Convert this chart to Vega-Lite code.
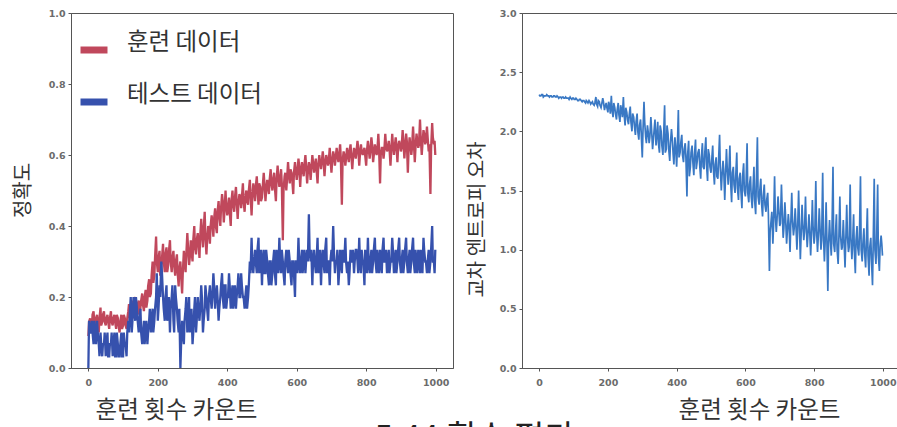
{
"$schema": "https://vega.github.io/schema/vega-lite/v6.json",
"padding": {"left": 12, "top": 7, "right": 0, "bottom": 0},
"bounds": "flush",
"spacing": 69,
"background": "white",
"title": {"text": "5.44 횟수 평가", "orient": "bottom", "anchor": "start", "frame": "bounds", "dx": 362, "offset": 1, "fontSize": 33, "font": "Noto Sans CJK KR", "fontWeight": "normal", "color": "#222", "baseline": "top"},
"datasets": {"d": [
{"x":0,"a_train":0.09,"b_test":0.0,"loss":2.31},
{"x":2,"a_train":0.13,"b_test":0.133,"loss":2.30},
{"x":5,"a_train":0.14,"b_test":0.1,"loss":2.30},
{"x":7,"a_train":0.12,"b_test":0.1,"loss":2.31},
{"x":10,"a_train":0.11,"b_test":0.133,"loss":2.31},
{"x":12,"a_train":0.15,"b_test":0.1,"loss":2.29},
{"x":15,"a_train":0.16,"b_test":0.067,"loss":2.30},
{"x":17,"a_train":0.13,"b_test":0.133,"loss":2.30},
{"x":20,"a_train":0.12,"b_test":0.1,"loss":2.30},
{"x":22,"a_train":0.14,"b_test":0.067,"loss":2.31},
{"x":25,"a_train":0.15,"b_test":0.133,"loss":2.30},
{"x":27,"a_train":0.12,"b_test":0.1,"loss":2.30},
{"x":30,"a_train":0.10,"b_test":0.067,"loss":2.29},
{"x":32,"a_train":0.14,"b_test":0.033,"loss":2.30},
{"x":35,"a_train":0.17,"b_test":0.1,"loss":2.30},
{"x":37,"a_train":0.12,"b_test":0.067,"loss":2.29},
{"x":40,"a_train":0.13,"b_test":0.033,"loss":2.29},
{"x":42,"a_train":0.15,"b_test":0.067,"loss":2.30},
{"x":45,"a_train":0.16,"b_test":0.067,"loss":2.30},
{"x":47,"a_train":0.13,"b_test":0.1,"loss":2.29},
{"x":50,"a_train":0.12,"b_test":0.033,"loss":2.29},
{"x":52,"a_train":0.14,"b_test":0.067,"loss":2.30},
{"x":55,"a_train":0.15,"b_test":0.1,"loss":2.29},
{"x":57,"a_train":0.13,"b_test":0.033,"loss":2.28},
{"x":60,"a_train":0.11,"b_test":0.033,"loss":2.29},
{"x":62,"a_train":0.14,"b_test":0.067,"loss":2.29},
{"x":65,"a_train":0.16,"b_test":0.067,"loss":2.28},
{"x":67,"a_train":0.13,"b_test":0.1,"loss":2.29},
{"x":70,"a_train":0.12,"b_test":0.033,"loss":2.29},
{"x":72,"a_train":0.14,"b_test":0.067,"loss":2.28},
{"x":75,"a_train":0.15,"b_test":0.1,"loss":2.28},
{"x":77,"a_train":0.13,"b_test":0.033,"loss":2.29},
{"x":80,"a_train":0.11,"b_test":0.033,"loss":2.28},
{"x":82,"a_train":0.15,"b_test":0.1,"loss":2.28},
{"x":85,"a_train":0.14,"b_test":0.067,"loss":2.28},
{"x":87,"a_train":0.12,"b_test":0.033,"loss":2.27},
{"x":90,"a_train":0.10,"b_test":0.033,"loss":2.29},
{"x":92,"a_train":0.13,"b_test":0.067,"loss":2.28},
{"x":95,"a_train":0.15,"b_test":0.1,"loss":2.27},
{"x":97,"a_train":0.11,"b_test":0.033,"loss":2.28},
{"x":100,"a_train":0.12,"b_test":0.033,"loss":2.28},
{"x":102,"a_train":0.15,"b_test":0.1,"loss":2.27},
{"x":105,"a_train":0.14,"b_test":0.067,"loss":2.27},
{"x":107,"a_train":0.12,"b_test":0.067,"loss":2.28},
{"x":110,"a_train":0.11,"b_test":0.033,"loss":2.27},
{"x":112,"a_train":0.14,"b_test":0.1,"loss":2.26},
{"x":115,"a_train":0.16,"b_test":0.133,"loss":2.26},
{"x":117,"a_train":0.18,"b_test":0.1,"loss":2.27},
{"x":120,"a_train":0.13,"b_test":0.167,"loss":2.27},
{"x":122,"a_train":0.15,"b_test":0.2,"loss":2.26},
{"x":125,"a_train":0.19,"b_test":0.1,"loss":2.25},
{"x":127,"a_train":0.16,"b_test":0.133,"loss":2.26},
{"x":130,"a_train":0.14,"b_test":0.2,"loss":2.26},
{"x":132,"a_train":0.18,"b_test":0.167,"loss":2.25},
{"x":135,"a_train":0.20,"b_test":0.133,"loss":2.24},
{"x":137,"a_train":0.17,"b_test":0.2,"loss":2.26},
{"x":140,"a_train":0.15,"b_test":0.167,"loss":2.25},
{"x":142,"a_train":0.18,"b_test":0.133,"loss":2.24},
{"x":145,"a_train":0.19,"b_test":0.1,"loss":2.26},
{"x":147,"a_train":0.15,"b_test":0.133,"loss":2.25},
{"x":150,"a_train":0.17,"b_test":0.167,"loss":2.23},
{"x":152,"a_train":0.19,"b_test":0.1,"loss":2.24},
{"x":155,"a_train":0.21,"b_test":0.067,"loss":2.25},
{"x":157,"a_train":0.18,"b_test":0.1,"loss":2.23},
{"x":160,"a_train":0.16,"b_test":0.133,"loss":2.22},
{"x":162,"a_train":0.20,"b_test":0.067,"loss":2.24},
{"x":165,"a_train":0.22,"b_test":0.1,"loss":2.29},
{"x":167,"a_train":0.17,"b_test":0.133,"loss":2.23},
{"x":170,"a_train":0.19,"b_test":0.067,"loss":2.21},
{"x":172,"a_train":0.23,"b_test":0.1,"loss":2.26},
{"x":175,"a_train":0.25,"b_test":0.133,"loss":2.25},
{"x":177,"a_train":0.20,"b_test":0.167,"loss":2.22},
{"x":180,"a_train":0.21,"b_test":0.1,"loss":2.20},
{"x":182,"a_train":0.26,"b_test":0.133,"loss":2.23},
{"x":185,"a_train":0.30,"b_test":0.167,"loss":2.28},
{"x":187,"a_train":0.24,"b_test":0.1,"loss":2.25},
{"x":190,"a_train":0.26,"b_test":0.133,"loss":2.18},
{"x":192,"a_train":0.31,"b_test":0.167,"loss":2.21},
{"x":195,"a_train":0.37,"b_test":0.2,"loss":2.24},
{"x":197,"a_train":0.30,"b_test":0.267,"loss":2.20},
{"x":200,"a_train":0.27,"b_test":0.133,"loss":2.16},
{"x":202,"a_train":0.31,"b_test":0.167,"loss":2.25},
{"x":205,"a_train":0.33,"b_test":0.233,"loss":2.22},
{"x":207,"a_train":0.26,"b_test":0.2,"loss":2.15},
{"x":210,"a_train":0.28,"b_test":0.3,"loss":2.30},
{"x":212,"a_train":0.31,"b_test":0.267,"loss":2.18},
{"x":215,"a_train":0.35,"b_test":0.2,"loss":2.12},
{"x":217,"a_train":0.30,"b_test":0.167,"loss":2.24},
{"x":220,"a_train":0.27,"b_test":0.133,"loss":2.20},
{"x":222,"a_train":0.32,"b_test":0.2,"loss":2.15},
{"x":225,"a_train":0.34,"b_test":0.233,"loss":2.10},
{"x":227,"a_train":0.27,"b_test":0.133,"loss":2.18},
{"x":230,"a_train":0.29,"b_test":0.167,"loss":2.24},
{"x":232,"a_train":0.33,"b_test":0.2,"loss":2.14},
{"x":235,"a_train":0.36,"b_test":0.1,"loss":2.08},
{"x":237,"a_train":0.30,"b_test":0.167,"loss":2.22},
{"x":240,"a_train":0.27,"b_test":0.2,"loss":2.18},
{"x":242,"a_train":0.31,"b_test":0.233,"loss":2.12},
{"x":245,"a_train":0.33,"b_test":0.133,"loss":2.29},
{"x":247,"a_train":0.29,"b_test":0.1,"loss":2.15},
{"x":250,"a_train":0.26,"b_test":0.233,"loss":2.05},
{"x":252,"a_train":0.30,"b_test":0.2,"loss":2.20},
{"x":255,"a_train":0.32,"b_test":0.167,"loss":2.16},
{"x":257,"a_train":0.27,"b_test":0.133,"loss":2.10},
{"x":260,"a_train":0.23,"b_test":0.1,"loss":2.06},
{"x":262,"a_train":0.28,"b_test":0.167,"loss":2.14},
{"x":265,"a_train":0.30,"b_test":0.0,"loss":2.21},
{"x":267,"a_train":0.26,"b_test":0.067,"loss":2.08},
{"x":270,"a_train":0.21,"b_test":0.133,"loss":2.00},
{"x":272,"a_train":0.27,"b_test":0.1,"loss":2.15},
{"x":275,"a_train":0.33,"b_test":0.067,"loss":2.12},
{"x":277,"a_train":0.30,"b_test":0.133,"loss":2.05},
{"x":280,"a_train":0.27,"b_test":0.167,"loss":1.97},
{"x":282,"a_train":0.32,"b_test":0.2,"loss":2.08},
{"x":285,"a_train":0.38,"b_test":0.1,"loss":2.15},
{"x":287,"a_train":0.34,"b_test":0.133,"loss":2.00},
{"x":290,"a_train":0.29,"b_test":0.2,"loss":1.93},
{"x":292,"a_train":0.31,"b_test":0.1,"loss":2.05},
{"x":295,"a_train":0.36,"b_test":0.133,"loss":2.10},
{"x":297,"a_train":0.33,"b_test":0.167,"loss":1.98},
{"x":300,"a_train":0.30,"b_test":0.067,"loss":1.78},
{"x":302,"a_train":0.36,"b_test":0.1,"loss":2.00},
{"x":305,"a_train":0.40,"b_test":0.167,"loss":2.25},
{"x":307,"a_train":0.34,"b_test":0.2,"loss":2.08},
{"x":310,"a_train":0.32,"b_test":0.1,"loss":1.95},
{"x":312,"a_train":0.36,"b_test":0.133,"loss":1.90},
{"x":315,"a_train":0.38,"b_test":0.2,"loss":2.05},
{"x":317,"a_train":0.35,"b_test":0.167,"loss":2.00},
{"x":320,"a_train":0.31,"b_test":0.133,"loss":1.90},
{"x":322,"a_train":0.37,"b_test":0.167,"loss":1.95},
{"x":325,"a_train":0.42,"b_test":0.233,"loss":2.12},
{"x":327,"a_train":0.38,"b_test":0.2,"loss":2.02},
{"x":330,"a_train":0.34,"b_test":0.1,"loss":1.85},
{"x":332,"a_train":0.39,"b_test":0.133,"loss":1.92},
{"x":335,"a_train":0.44,"b_test":0.167,"loss":2.03},
{"x":337,"a_train":0.37,"b_test":0.233,"loss":2.10},
{"x":340,"a_train":0.32,"b_test":0.2,"loss":1.88},
{"x":342,"a_train":0.36,"b_test":0.167,"loss":1.95},
{"x":345,"a_train":0.40,"b_test":0.133,"loss":2.08},
{"x":347,"a_train":0.39,"b_test":0.2,"loss":1.90},
{"x":350,"a_train":0.35,"b_test":0.233,"loss":1.82},
{"x":352,"a_train":0.40,"b_test":0.2,"loss":2.05},
{"x":355,"a_train":0.43,"b_test":0.167,"loss":2.00},
{"x":357,"a_train":0.41,"b_test":0.2,"loss":1.88},
{"x":360,"a_train":0.37,"b_test":0.267,"loss":1.80},
{"x":362,"a_train":0.42,"b_test":0.233,"loss":1.95},
{"x":365,"a_train":0.45,"b_test":0.167,"loss":2.22},
{"x":367,"a_train":0.40,"b_test":0.2,"loss":1.82},
{"x":370,"a_train":0.38,"b_test":0.233,"loss":1.85},
{"x":372,"a_train":0.44,"b_test":0.2,"loss":2.05},
{"x":375,"a_train":0.47,"b_test":0.133,"loss":1.98},
{"x":377,"a_train":0.43,"b_test":0.167,"loss":1.85},
{"x":380,"a_train":0.40,"b_test":0.2,"loss":1.75},
{"x":382,"a_train":0.45,"b_test":0.233,"loss":1.90},
{"x":385,"a_train":0.49,"b_test":0.267,"loss":2.02},
{"x":387,"a_train":0.47,"b_test":0.2,"loss":1.95},
{"x":390,"a_train":0.41,"b_test":0.167,"loss":1.80},
{"x":392,"a_train":0.44,"b_test":0.233,"loss":1.72},
{"x":395,"a_train":0.50,"b_test":0.233,"loss":1.95},
{"x":397,"a_train":0.46,"b_test":0.167,"loss":1.88},
{"x":400,"a_train":0.43,"b_test":0.2,"loss":1.70},
{"x":402,"a_train":0.45,"b_test":0.2,"loss":1.85},
{"x":405,"a_train":0.48,"b_test":0.267,"loss":2.18},
{"x":407,"a_train":0.44,"b_test":0.233,"loss":1.78},
{"x":410,"a_train":0.40,"b_test":0.167,"loss":1.82},
{"x":412,"a_train":0.47,"b_test":0.2,"loss":1.90},
{"x":415,"a_train":0.50,"b_test":0.233,"loss":1.97},
{"x":417,"a_train":0.46,"b_test":0.167,"loss":1.80},
{"x":420,"a_train":0.44,"b_test":0.2,"loss":1.74},
{"x":422,"a_train":0.48,"b_test":0.233,"loss":1.85},
{"x":425,"a_train":0.51,"b_test":0.167,"loss":1.90},
{"x":427,"a_train":0.47,"b_test":0.2,"loss":1.78},
{"x":430,"a_train":0.42,"b_test":0.233,"loss":1.45},
{"x":432,"a_train":0.46,"b_test":0.267,"loss":1.80},
{"x":435,"a_train":0.49,"b_test":0.2,"loss":1.92},
{"x":437,"a_train":0.48,"b_test":0.2,"loss":1.62},
{"x":440,"a_train":0.45,"b_test":0.267,"loss":1.70},
{"x":442,"a_train":0.48,"b_test":0.233,"loss":1.82},
{"x":445,"a_train":0.52,"b_test":0.2,"loss":1.88},
{"x":447,"a_train":0.47,"b_test":0.2,"loss":1.75},
{"x":450,"a_train":0.44,"b_test":0.167,"loss":1.63},
{"x":452,"a_train":0.48,"b_test":0.2,"loss":1.80},
{"x":455,"a_train":0.50,"b_test":0.233,"loss":1.93},
{"x":457,"a_train":0.47,"b_test":0.167,"loss":1.68},
{"x":460,"a_train":0.46,"b_test":0.2,"loss":1.75},
{"x":462,"a_train":0.50,"b_test":0.233,"loss":1.82},
{"x":465,"a_train":0.53,"b_test":0.3,"loss":1.85},
{"x":467,"a_train":0.49,"b_test":0.267,"loss":1.72},
{"x":470,"a_train":0.43,"b_test":0.367,"loss":1.60},
{"x":472,"a_train":0.48,"b_test":0.3,"loss":1.78},
{"x":475,"a_train":0.52,"b_test":0.267,"loss":1.90},
{"x":477,"a_train":0.50,"b_test":0.3,"loss":1.70},
{"x":480,"a_train":0.47,"b_test":0.333,"loss":1.68},
{"x":482,"a_train":0.51,"b_test":0.3,"loss":1.82},
{"x":485,"a_train":0.54,"b_test":0.267,"loss":1.95},
{"x":487,"a_train":0.50,"b_test":0.333,"loss":1.72},
{"x":490,"a_train":0.46,"b_test":0.367,"loss":1.58},
{"x":492,"a_train":0.52,"b_test":0.267,"loss":1.85},
{"x":495,"a_train":0.51,"b_test":0.3,"loss":1.80},
{"x":497,"a_train":0.47,"b_test":0.333,"loss":1.70},
{"x":500,"a_train":0.48,"b_test":0.233,"loss":1.65},
{"x":502,"a_train":0.51,"b_test":0.3,"loss":1.75},
{"x":505,"a_train":0.55,"b_test":0.333,"loss":1.88},
{"x":507,"a_train":0.52,"b_test":0.267,"loss":1.68},
{"x":510,"a_train":0.47,"b_test":0.267,"loss":1.55},
{"x":512,"a_train":0.50,"b_test":0.333,"loss":1.72},
{"x":515,"a_train":0.53,"b_test":0.3,"loss":1.78},
{"x":517,"a_train":0.51,"b_test":0.267,"loss":1.62},
{"x":520,"a_train":0.49,"b_test":0.233,"loss":1.60},
{"x":522,"a_train":0.53,"b_test":0.3,"loss":1.75},
{"x":525,"a_train":0.56,"b_test":0.3,"loss":1.97},
{"x":527,"a_train":0.52,"b_test":0.233,"loss":1.70},
{"x":530,"a_train":0.50,"b_test":0.267,"loss":1.50},
{"x":532,"a_train":0.53,"b_test":0.3,"loss":1.62},
{"x":535,"a_train":0.55,"b_test":0.333,"loss":1.75},
{"x":537,"a_train":0.51,"b_test":0.267,"loss":1.68},
{"x":540,"a_train":0.47,"b_test":0.233,"loss":1.42},
{"x":542,"a_train":0.53,"b_test":0.333,"loss":1.60},
{"x":545,"a_train":0.57,"b_test":0.3,"loss":1.85},
{"x":547,"a_train":0.54,"b_test":0.267,"loss":1.70},
{"x":550,"a_train":0.51,"b_test":0.367,"loss":1.55},
{"x":552,"a_train":0.53,"b_test":0.3,"loss":1.65},
{"x":555,"a_train":0.56,"b_test":0.267,"loss":1.88},
{"x":557,"a_train":0.52,"b_test":0.333,"loss":1.58},
{"x":560,"a_train":0.36,"b_test":0.3,"loss":1.40},
{"x":562,"a_train":0.50,"b_test":0.267,"loss":1.65},
{"x":565,"a_train":0.54,"b_test":0.233,"loss":1.70},
{"x":567,"a_train":0.55,"b_test":0.3,"loss":1.55},
{"x":570,"a_train":0.50,"b_test":0.333,"loss":1.48},
{"x":572,"a_train":0.53,"b_test":0.3,"loss":1.62},
{"x":575,"a_train":0.58,"b_test":0.267,"loss":1.82},
{"x":577,"a_train":0.55,"b_test":0.333,"loss":1.52},
{"x":580,"a_train":0.52,"b_test":0.3,"loss":1.42},
{"x":582,"a_train":0.56,"b_test":0.267,"loss":1.60},
{"x":585,"a_train":0.55,"b_test":0.233,"loss":1.65},
{"x":587,"a_train":0.53,"b_test":0.3,"loss":1.50},
{"x":590,"a_train":0.49,"b_test":0.3,"loss":1.35},
{"x":592,"a_train":0.55,"b_test":0.267,"loss":1.62},
{"x":595,"a_train":0.58,"b_test":0.2,"loss":1.73},
{"x":597,"a_train":0.56,"b_test":0.3,"loss":1.50},
{"x":600,"a_train":0.53,"b_test":0.3,"loss":1.45},
{"x":602,"a_train":0.55,"b_test":0.267,"loss":1.55},
{"x":605,"a_train":0.59,"b_test":0.367,"loss":1.90},
{"x":607,"a_train":0.57,"b_test":0.3,"loss":1.48},
{"x":610,"a_train":0.51,"b_test":0.267,"loss":1.40},
{"x":612,"a_train":0.55,"b_test":0.3,"loss":1.55},
{"x":615,"a_train":0.58,"b_test":0.333,"loss":1.62},
{"x":617,"a_train":0.56,"b_test":0.267,"loss":1.45},
{"x":620,"a_train":0.54,"b_test":0.3,"loss":1.35},
{"x":622,"a_train":0.57,"b_test":0.333,"loss":1.50},
{"x":625,"a_train":0.60,"b_test":0.267,"loss":1.70},
{"x":627,"a_train":0.57,"b_test":0.3,"loss":1.42},
{"x":630,"a_train":0.52,"b_test":0.333,"loss":1.30},
{"x":632,"a_train":0.55,"b_test":0.3,"loss":1.58},
{"x":635,"a_train":0.58,"b_test":0.433,"loss":1.95},
{"x":637,"a_train":0.57,"b_test":0.333,"loss":1.45},
{"x":640,"a_train":0.53,"b_test":0.3,"loss":1.38},
{"x":642,"a_train":0.56,"b_test":0.333,"loss":1.50},
{"x":645,"a_train":0.60,"b_test":0.233,"loss":1.60},
{"x":647,"a_train":0.58,"b_test":0.3,"loss":1.40},
{"x":650,"a_train":0.55,"b_test":0.333,"loss":1.28},
{"x":652,"a_train":0.57,"b_test":0.3,"loss":1.45},
{"x":655,"a_train":0.59,"b_test":0.267,"loss":1.55},
{"x":657,"a_train":0.56,"b_test":0.3,"loss":1.38},
{"x":660,"a_train":0.52,"b_test":0.367,"loss":1.32},
{"x":662,"a_train":0.57,"b_test":0.267,"loss":1.42},
{"x":665,"a_train":0.60,"b_test":0.3,"loss":1.48},
{"x":667,"a_train":0.58,"b_test":0.333,"loss":1.30},
{"x":670,"a_train":0.56,"b_test":0.233,"loss":0.82},
{"x":672,"a_train":0.58,"b_test":0.3,"loss":1.15},
{"x":675,"a_train":0.61,"b_test":0.333,"loss":1.25},
{"x":677,"a_train":0.59,"b_test":0.3,"loss":1.32},
{"x":680,"a_train":0.54,"b_test":0.267,"loss":1.05},
{"x":682,"a_train":0.57,"b_test":0.333,"loss":1.20},
{"x":685,"a_train":0.60,"b_test":0.367,"loss":1.62},
{"x":687,"a_train":0.59,"b_test":0.267,"loss":1.30},
{"x":690,"a_train":0.57,"b_test":0.3,"loss":1.15},
{"x":692,"a_train":0.58,"b_test":0.3,"loss":1.25},
{"x":695,"a_train":0.62,"b_test":0.233,"loss":1.45},
{"x":697,"a_train":0.59,"b_test":0.3,"loss":1.35},
{"x":700,"a_train":0.55,"b_test":0.333,"loss":1.20},
{"x":702,"a_train":0.58,"b_test":0.3,"loss":1.22},
{"x":705,"a_train":0.61,"b_test":0.4,"loss":1.55},
{"x":707,"a_train":0.60,"b_test":0.333,"loss":1.35},
{"x":710,"a_train":0.57,"b_test":0.267,"loss":1.10},
{"x":712,"a_train":0.59,"b_test":0.3,"loss":1.18},
{"x":715,"a_train":0.62,"b_test":0.3,"loss":1.40},
{"x":717,"a_train":0.60,"b_test":0.333,"loss":1.28},
{"x":720,"a_train":0.58,"b_test":0.233,"loss":1.05},
{"x":722,"a_train":0.60,"b_test":0.267,"loss":1.15},
{"x":725,"a_train":0.63,"b_test":0.333,"loss":1.30},
{"x":727,"a_train":0.59,"b_test":0.3,"loss":1.22},
{"x":730,"a_train":0.46,"b_test":0.267,"loss":0.98},
{"x":732,"a_train":0.58,"b_test":0.333,"loss":1.20},
{"x":735,"a_train":0.61,"b_test":0.3,"loss":1.48},
{"x":737,"a_train":0.60,"b_test":0.3,"loss":1.25},
{"x":740,"a_train":0.57,"b_test":0.367,"loss":1.12},
{"x":742,"a_train":0.59,"b_test":0.3,"loss":1.18},
{"x":745,"a_train":0.62,"b_test":0.267,"loss":1.35},
{"x":747,"a_train":0.60,"b_test":0.3,"loss":1.22},
{"x":750,"a_train":0.58,"b_test":0.233,"loss":1.00},
{"x":752,"a_train":0.61,"b_test":0.267,"loss":1.15},
{"x":755,"a_train":0.63,"b_test":0.333,"loss":1.50},
{"x":757,"a_train":0.60,"b_test":0.3,"loss":1.25},
{"x":760,"a_train":0.56,"b_test":0.3,"loss":0.92},
{"x":762,"a_train":0.59,"b_test":0.333,"loss":1.10},
{"x":765,"a_train":0.62,"b_test":0.267,"loss":1.38},
{"x":767,"a_train":0.61,"b_test":0.3,"loss":1.22},
{"x":770,"a_train":0.59,"b_test":0.333,"loss":1.08},
{"x":772,"a_train":0.61,"b_test":0.333,"loss":1.15},
{"x":775,"a_train":0.64,"b_test":0.3,"loss":1.45},
{"x":777,"a_train":0.62,"b_test":0.267,"loss":1.20},
{"x":780,"a_train":0.57,"b_test":0.367,"loss":1.02},
{"x":782,"a_train":0.60,"b_test":0.3,"loss":1.12},
{"x":785,"a_train":0.63,"b_test":0.267,"loss":1.30},
{"x":787,"a_train":0.61,"b_test":0.333,"loss":1.18},
{"x":790,"a_train":0.60,"b_test":0.3,"loss":0.95},
{"x":792,"a_train":0.61,"b_test":0.3,"loss":1.10},
{"x":795,"a_train":0.62,"b_test":0.233,"loss":1.42},
{"x":797,"a_train":0.60,"b_test":0.333,"loss":1.20},
{"x":800,"a_train":0.57,"b_test":0.3,"loss":1.05},
{"x":802,"a_train":0.61,"b_test":0.267,"loss":1.12},
{"x":805,"a_train":0.64,"b_test":0.367,"loss":1.58},
{"x":807,"a_train":0.62,"b_test":0.3,"loss":1.18},
{"x":810,"a_train":0.59,"b_test":0.267,"loss":0.98},
{"x":812,"a_train":0.61,"b_test":0.3,"loss":1.10},
{"x":815,"a_train":0.65,"b_test":0.333,"loss":1.35},
{"x":817,"a_train":0.63,"b_test":0.267,"loss":1.20},
{"x":820,"a_train":0.58,"b_test":0.3,"loss":1.00},
{"x":822,"a_train":0.60,"b_test":0.333,"loss":1.08},
{"x":825,"a_train":0.63,"b_test":0.367,"loss":1.65},
{"x":827,"a_train":0.62,"b_test":0.3,"loss":1.15},
{"x":830,"a_train":0.60,"b_test":0.267,"loss":0.90},
{"x":832,"a_train":0.61,"b_test":0.333,"loss":1.05},
{"x":835,"a_train":0.66,"b_test":0.3,"loss":1.40},
{"x":837,"a_train":0.62,"b_test":0.267,"loss":1.12},
{"x":840,"a_train":0.52,"b_test":0.333,"loss":0.65},
{"x":842,"a_train":0.60,"b_test":0.3,"loss":1.05},
{"x":845,"a_train":0.62,"b_test":0.267,"loss":1.25},
{"x":847,"a_train":0.62,"b_test":0.333,"loss":1.10},
{"x":850,"a_train":0.59,"b_test":0.367,"loss":0.95},
{"x":852,"a_train":0.61,"b_test":0.3,"loss":1.15},
{"x":855,"a_train":0.66,"b_test":0.3,"loss":1.70},
{"x":857,"a_train":0.63,"b_test":0.333,"loss":1.05},
{"x":860,"a_train":0.61,"b_test":0.267,"loss":0.98},
{"x":862,"a_train":0.62,"b_test":0.3,"loss":1.12},
{"x":865,"a_train":0.64,"b_test":0.333,"loss":1.30},
{"x":867,"a_train":0.62,"b_test":0.267,"loss":1.00},
{"x":870,"a_train":0.57,"b_test":0.3,"loss":0.88},
{"x":872,"a_train":0.61,"b_test":0.3,"loss":1.08},
{"x":875,"a_train":0.66,"b_test":0.367,"loss":1.45},
{"x":877,"a_train":0.63,"b_test":0.333,"loss":1.12},
{"x":880,"a_train":0.60,"b_test":0.267,"loss":1.00},
{"x":882,"a_train":0.62,"b_test":0.3,"loss":1.02},
{"x":885,"a_train":0.65,"b_test":0.333,"loss":1.25},
{"x":887,"a_train":0.63,"b_test":0.267,"loss":1.10},
{"x":890,"a_train":0.58,"b_test":0.3,"loss":0.85},
{"x":892,"a_train":0.62,"b_test":0.333,"loss":1.05},
{"x":895,"a_train":0.64,"b_test":0.367,"loss":1.38},
{"x":897,"a_train":0.63,"b_test":0.3,"loss":1.12},
{"x":900,"a_train":0.61,"b_test":0.267,"loss":0.98},
{"x":902,"a_train":0.62,"b_test":0.3,"loss":1.02},
{"x":905,"a_train":0.67,"b_test":0.333,"loss":1.55},
{"x":907,"a_train":0.64,"b_test":0.267,"loss":1.10},
{"x":910,"a_train":0.59,"b_test":0.3,"loss":0.92},
{"x":912,"a_train":0.62,"b_test":0.333,"loss":1.05},
{"x":915,"a_train":0.66,"b_test":0.367,"loss":1.30},
{"x":917,"a_train":0.64,"b_test":0.3,"loss":1.00},
{"x":920,"a_train":0.55,"b_test":0.267,"loss":0.80},
{"x":922,"a_train":0.61,"b_test":0.3,"loss":1.08},
{"x":925,"a_train":0.65,"b_test":0.333,"loss":1.20},
{"x":927,"a_train":0.63,"b_test":0.267,"loss":1.02},
{"x":930,"a_train":0.60,"b_test":0.3,"loss":0.95},
{"x":932,"a_train":0.62,"b_test":0.333,"loss":1.12},
{"x":935,"a_train":0.68,"b_test":0.367,"loss":1.62},
{"x":937,"a_train":0.64,"b_test":0.3,"loss":1.00},
{"x":940,"a_train":0.58,"b_test":0.267,"loss":0.90},
{"x":942,"a_train":0.62,"b_test":0.333,"loss":1.05},
{"x":945,"a_train":0.66,"b_test":0.3,"loss":1.18},
{"x":947,"a_train":0.64,"b_test":0.267,"loss":0.98},
{"x":950,"a_train":0.62,"b_test":0.333,"loss":0.85},
{"x":952,"a_train":0.63,"b_test":0.3,"loss":1.05},
{"x":955,"a_train":0.70,"b_test":0.267,"loss":1.35},
{"x":957,"a_train":0.65,"b_test":0.333,"loss":0.95},
{"x":960,"a_train":0.60,"b_test":0.3,"loss":0.78},
{"x":962,"a_train":0.63,"b_test":0.267,"loss":1.02},
{"x":965,"a_train":0.67,"b_test":0.367,"loss":1.10},
{"x":967,"a_train":0.66,"b_test":0.333,"loss":0.92},
{"x":970,"a_train":0.63,"b_test":0.3,"loss":0.70},
{"x":972,"a_train":0.64,"b_test":0.3,"loss":1.05},
{"x":975,"a_train":0.68,"b_test":0.267,"loss":1.60},
{"x":977,"a_train":0.65,"b_test":0.3,"loss":1.00},
{"x":980,"a_train":0.61,"b_test":0.333,"loss":0.88},
{"x":982,"a_train":0.63,"b_test":0.267,"loss":1.08},
{"x":985,"a_train":0.49,"b_test":0.3,"loss":1.55},
{"x":987,"a_train":0.62,"b_test":0.333,"loss":0.95},
{"x":990,"a_train":0.69,"b_test":0.4,"loss":0.82},
{"x":992,"a_train":0.65,"b_test":0.3,"loss":1.02},
{"x":995,"a_train":0.63,"b_test":0.3,"loss":1.12},
{"x":997,"a_train":0.64,"b_test":0.267,"loss":1.05},
{"x":999,"a_train":0.60,"b_test":0.333,"loss":0.95}
]},
"data": {"name": "d"},
"config": {
  "view": {"stroke": "#555", "strokeWidth": 1},
  "axis": {"grid": false, "labelFont": "DejaVu Sans", "labelFontSize": 9.5, "labelFontWeight": "bold", "labelColor": "#6b6b6b", "tickColor": "#555", "domainColor": "#555", "tickSize": 3, "labelPadding": 3, "titleFont": "Noto Sans CJK KR", "titleFontSize": 20, "titleFontWeight": "normal", "titleColor": "#333"}
},
"hconcat": [
  {
    "width": 382, "height": 355,
    "transform": [{"fold": ["a_train", "b_test"], "as": ["series", "value"]}],
    "mark": {"type": "line", "strokeWidth": 2.3},
    "encoding": {
      "x": {"field": "x", "type": "quantitative", "scale": {"domain": [-50, 1050], "nice": false, "zero": false},
            "axis": {"values": [0, 200, 400, 600, 800, 1000], "format": "d", "labelPadding": 6, "title": "훈련 횟수 카운트", "titleFontSize": 23.5, "titleX": 105, "titleY": 30, "titleAlign": "center", "titleBaseline": "top"}},
      "y": {"field": "value", "type": "quantitative", "scale": {"domain": [0, 1], "nice": false},
            "axis": {"values": [0, 0.2, 0.4, 0.6, 0.8, 1.0], "format": ".1f", "title": "정확도", "titleX": -48, "titleY": 177, "titleAlign": "center", "titleBaseline": "middle", "titleAngle": -90}},
      "color": {"field": "series", "type": "nominal", "scale": {"domain": ["a_train", "b_test"], "range": ["#c0485c", "#3651ad"]},
                "legend": {"orient": "none", "legendX": 6, "legendY": 20, "title": null, "padding": 0,
                           "labelExpr": "datum.label == 'a_train' ? '훈련 데이터' : '테스트 데이터'",
                           "symbolType": "stroke", "symbolSize": 729, "symbolStrokeWidth": 7,
                           "labelFont": "Noto Sans CJK KR", "labelFontSize": 23.5, "labelColor": "#333",
                           "labelOffset": 16, "rowPadding": 19, "labelBaseline": "alphabetic"}}
    }
  },
  {
    "width": 378, "height": 355,
    "mark": {"type": "line", "strokeWidth": 1.7, "color": "#3978c4"},
    "encoding": {
      "x": {"field": "x", "type": "quantitative", "scale": {"domain": [-50, 1050], "nice": false, "zero": false},
            "axis": {"values": [0, 200, 400, 600, 800, 1000], "format": "d", "labelPadding": 6, "title": "훈련 횟수 카운트", "titleFontSize": 23.5, "titleX": 237, "titleY": 30, "titleAlign": "center", "titleBaseline": "top"}},
      "y": {"field": "loss", "type": "quantitative", "scale": {"domain": [0, 3], "nice": false},
            "axis": {"values": [0, 0.5, 1, 1.5, 2, 2.5, 3], "format": ".1f", "title": "교차 엔트로피 오차", "titleX": -45, "titleY": 206, "titleAlign": "center", "titleBaseline": "middle", "titleAngle": -90}}
    }
  }
]
}
